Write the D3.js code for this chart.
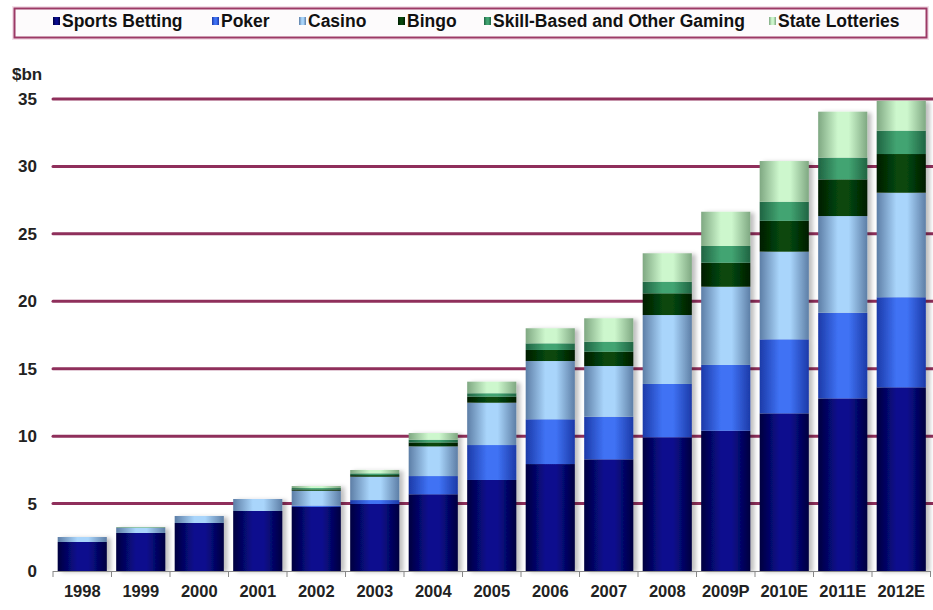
<!DOCTYPE html>
<html>
<head>
<meta charset="utf-8">
<script src="https://cdnjs.cloudflare.com/ajax/libs/d3/7.8.5/d3.min.js"></script>
<style>
  html, body { margin: 0; padding: 0; background: #fff; }
  svg { display: block; font-family: "Liberation Sans", Arial, sans-serif; }
</style>
</head>
<body>
<svg id="chart" width="933" height="610"></svg>
<script>
const years = ["1998", "1999", "2000", "2001", "2002", "2003", "2004", "2005", "2006", "2007", "2008", "2009P", "2010E", "2011E", "2012E"]
const seriesNames = ["Sports Betting", "Poker", "Casino", "Bingo", "Skill-Based and Other Gaming", "State Lotteries"]

// $bn
const sportsBetting = [2.15, 2.82, 3.56, 4.45, 4.75, 4.97, 5.69, 6.75, 7.93, 8.28, 9.91, 10.4, 11.69, 12.8, 13.62]
const poker = [0, 0, 0, 0, 0.1, 0.29, 1.35, 2.59, 3.32, 3.16, 3.96, 4.88, 5.49, 6.35, 6.68]
const casino = [0.37, 0.37, 0.52, 0.89, 1.1, 1.73, 2.2, 3.14, 4.32, 3.76, 5.11, 5.8, 6.5, 7.17, 7.75]
const bingo = [0, 0, 0, 0, 0.1, 0.12, 0.29, 0.45, 0.82, 1.06, 1.61, 1.78, 2.29, 2.72, 2.87]
const skillBased = [0, 0.04, 0, 0, 0.1, 0.13, 0.2, 0.25, 0.49, 0.74, 0.86, 1.24, 1.41, 1.61, 1.73]
const stateLotteries = [0, 0, 0, 0, 0.15, 0.25, 0.5, 0.86, 1.12, 1.74, 2.11, 2.54, 3.02, 3.41, 2.22]

const yTicks = [0, 5, 10, 15, 20, 25, 30, 35]

const seriesValues = [sportsBetting, poker, casino, bingo, skillBased, stateLotteries]

// edge / highlight colours for the cylinder look
const seriesColors = [
  { edge: "#00003f", mid: "#0a0c8e" },
  { edge: "#1c3aa8", mid: "#3f72f4" },
  { edge: "#5d7ea6", mid: "#a9d5fb" },
  { edge: "#001c00", mid: "#07460c" },
  { edge: "#1f6442", mid: "#42a472" },
  { edge: "#7fa882", mid: "#cdf7cd" }
]

const svg = d3.select("#chart")
const W = 933, H = 610
const plot = { left: 53, right: 930.5, top: 99, bottom: 571 }

const defs = svg.append("defs")
seriesColors.forEach((c, i) => {
  const g = defs.append("linearGradient")
    .attr("id", "grad" + i)
    .attr("x1", "0%").attr("x2", "100%").attr("y1", "0%").attr("y2", "0%")
  g.append("stop").attr("offset", "0%").attr("stop-color", c.edge)
  g.append("stop").attr("offset", "40%").attr("stop-color", c.mid)
  g.append("stop").attr("offset", "62%").attr("stop-color", c.mid)
  g.append("stop").attr("offset", "100%").attr("stop-color", c.edge)
})

const shadow = defs.append("filter").attr("id", "barShadow")
  .attr("x", "-20%").attr("y", "-10%").attr("width", "150%").attr("height", "130%")
shadow.append("feDropShadow")
  .attr("dx", 4).attr("dy", 1).attr("stdDeviation", 2)
  .attr("flood-color", "#000").attr("flood-opacity", 0.25)

const lineBlur = defs.append("filter").attr("id", "lineBlur")
  .attr("x", "-5%").attr("y", "-200%").attr("width", "110%").attr("height", "500%")
lineBlur.append("feGaussianBlur").attr("stdDeviation", 1.4)

const x = d3.scaleBand()
  .domain(years)
  .range([plot.left, plot.right])
  .paddingInner(0.16)
  .paddingOuter(0.08)

const y = d3.scaleLinear()
  .domain([0, 35])
  .range([plot.bottom, plot.top])

// legend box
svg.append("rect")
  .attr("x", 12).attr("y", 6).attr("width", 917).attr("height", 34)
  .attr("fill", "#f4e1ea")
svg.append("rect")
  .attr("x", 14.5).attr("y", 8.5).attr("width", 912).attr("height", 29)
  .attr("fill", "#fdfbfc")
  .attr("stroke", "#9c3a66")
  .attr("stroke-width", 2)

const legendX = [53, 212, 299, 398, 484, 769]
const legend = svg.append("g")
seriesNames.forEach((name, i) => {
  const item = legend.append("g").attr("transform", `translate(${legendX[i]},0)`)
  item.append("rect")
    .attr("x", 0).attr("y", 17).attr("width", 7).attr("height", 8)
    .attr("fill", `url(#grad${i})`)
  item.append("text")
    .attr("x", 9).attr("y", 27)
    .style("font-size", "17.5px")
    .style("font-weight", "bold")
    .style("fill", "#111")
    .text(name)
})

// gridlines
const grid = svg.append("g")
yTicks.filter(t => t > 0).forEach(t => {
  grid.append("line")
    .attr("x1", plot.left).attr("x2", W)
    .attr("y1", y(t) + 2.5).attr("y2", y(t) + 2.5)
    .attr("stroke", "#d9a9be").attr("stroke-width", 4)
    .attr("opacity", 0.7)
    .attr("filter", "url(#lineBlur)")
  grid.append("line")
    .attr("x1", plot.left).attr("x2", W)
    .attr("y1", y(t)).attr("y2", y(t))
    .attr("stroke", "#8f2f5b").attr("stroke-width", 3)
    .attr("stroke-linecap", "round")
})

// y labels
svg.append("g").selectAll("text")
  .data(yTicks)
  .join("text")
  .attr("x", 37)
  .attr("y", d => y(d) + 6)
  .attr("text-anchor", "end")
  .style("font-size", "17px")
  .style("font-weight", "bold")
  .style("fill", "#222")
  .text(d => d)

svg.append("text")
  .attr("x", 12).attr("y", 80)
  .style("font-size", "17px")
  .style("font-weight", "bold")
  .style("fill", "#222")
  .text("$bn")

// stacked bars
const table = years.map((yr, i) => {
  const row = { year: yr }
  seriesNames.forEach((s, k) => { row[s] = seriesValues[k][i] })
  return row
})
const stacked = d3.stack().keys(seriesNames)(table)

const barsG = svg.append("g")
const columns = barsG.selectAll("g.col")
  .data(years)
  .join("g")
  .attr("class", "col")
  .attr("filter", "url(#barShadow)")

columns.each(function (yr, i) {
  const col = d3.select(this)
  stacked.forEach((layer, k) => {
    const d = layer[i]
    if (d[1] - d[0] <= 0) return
    col.append("rect")
      .attr("x", x(yr))
      .attr("width", x.bandwidth())
      .attr("y", y(d[1]))
      .attr("height", y(d[0]) - y(d[1]))
      .attr("fill", `url(#grad${k})`)
  })
})

// x axis
const xAxis = svg.append("g").attr("transform", `translate(0,${plot.bottom})`)
xAxis.append("line")
  .attr("x1", plot.left).attr("x2", plot.right)
  .attr("y1", 0.5).attr("y2", 0.5)
  .attr("stroke", "#888").attr("stroke-width", 1)
const boundaries = years.map(yr => x(yr) - x.step() * x.paddingInner() / 2)
boundaries.push(plot.right)
xAxis.selectAll("line.tick")
  .data(boundaries)
  .join("line")
  .attr("class", "tick")
  .attr("x1", d => d).attr("x2", d => d)
  .attr("y1", 0).attr("y2", 6)
  .attr("stroke", "#888").attr("stroke-width", 1)

xAxis.selectAll("text")
  .data(years)
  .join("text")
  .attr("x", d => x(d) + x.bandwidth() / 2)
  .attr("y", 26)
  .attr("text-anchor", "middle")
  .style("font-size", "16.5px")
  .style("font-weight", "bold")
  .style("fill", "#222")
  .text(d => d)
</script>
</body>
</html>
